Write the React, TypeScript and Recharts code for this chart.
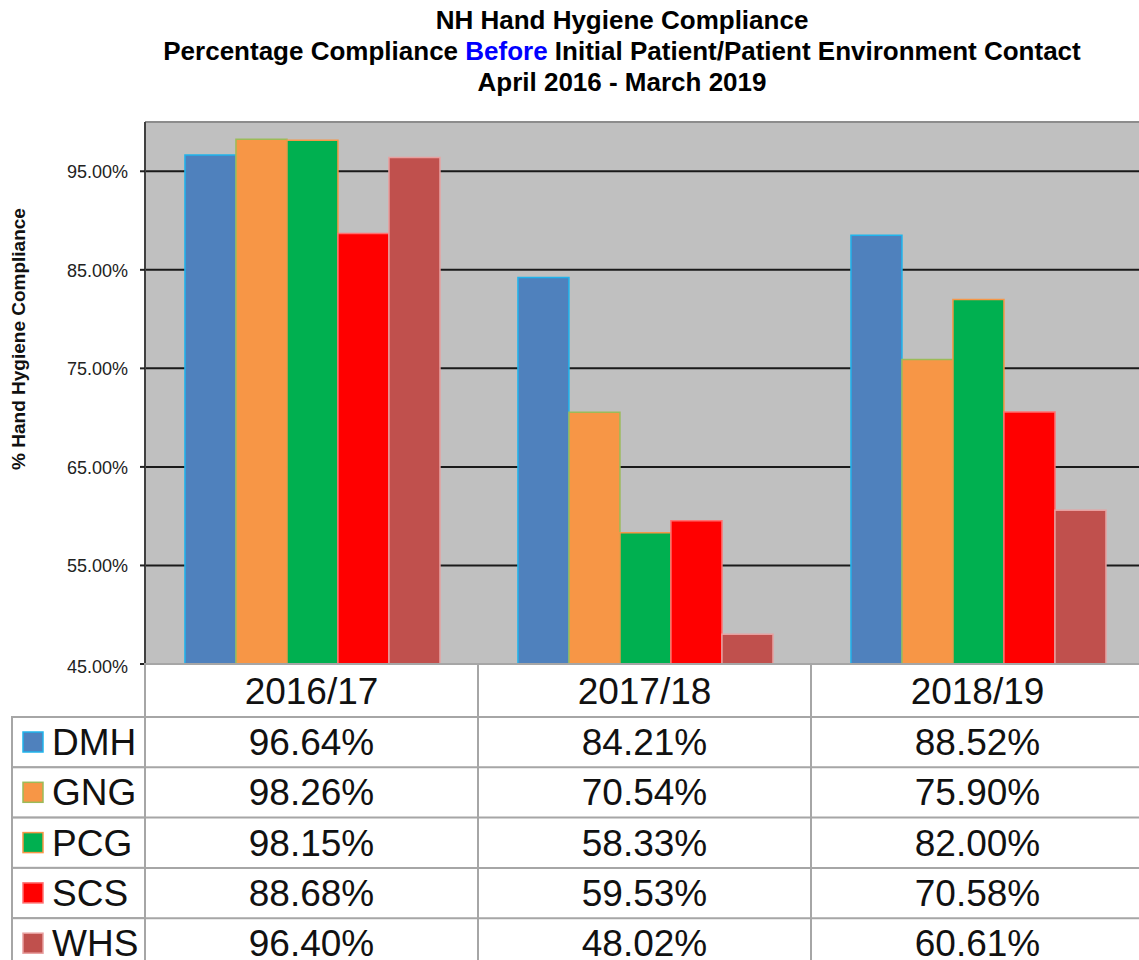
import React from 'react';
import { BarChart, Bar, XAxis, YAxis, CartesianGrid, ReferenceLine } from 'recharts';

const categories = ['2016/17', '2017/18', '2018/19'];
const seriesNames = ['DMH', 'GNG', 'PCG', 'SCS', 'WHS'];
const DMH = [96.64, 84.21, 88.52];
const GNG = [98.26, 70.54, 75.9];
const PCG = [98.15, 58.33, 82.0];
const SCS = [88.68, 59.53, 70.58];
const WHS = [96.4, 48.02, 60.61];
const yTicks = [45, 55, 65, 75, 85, 95];

const seriesValues: Record<string, number[]> = { DMH, GNG, PCG, SCS, WHS };
const fills: Record<string, string> = { DMH: '#4F81BD', GNG: '#F79646', PCG: '#00B050', SCS: '#FF0000', WHS: '#C0504D' };
const strokes: Record<string, string> = { DMH: '#1FB4EC', GNG: '#9BBB59', PCG: '#F79646', SCS: '#FF7070', WHS: '#E8A0A0' };

const data = categories.map((c, i) => {
  const row: Record<string, string | number> = { category: c };
  seriesNames.forEach((s) => (row[s] = seriesValues[s][i]));
  return row;
});

const CHART_W = 1150;
const CHART_H = 960;
const M_TOP = 122;
const M_RIGHT = 6;
const Y_W = 145;
const X_H = 296;
const COL_W = (CHART_W - Y_W - M_RIGHT) / categories.length;
const HEADER_H = 53;
const ROW_H = 50.3;
const LEFT_X = 12;
const BORDER = '#A6A6A6';
const FONT = '"Liberation Sans", Arial, sans-serif';
const TABLE_FS = 37;

const TableTick = (props: any) => {
  const { x, y, payload } = props;
  const idx = payload.index;
  const left = x - COL_W / 2;
  const cat = categories[idx];
  return (
    <g>
      <rect x={left} y={y} width={COL_W} height={HEADER_H + ROW_H * 5 + 20} fill="#fff" stroke={BORDER} strokeWidth={2} />
      <text x={x} y={y + HEADER_H / 2 + 13} textAnchor="middle" fontSize={TABLE_FS} fill="#111" fontFamily={FONT}>{cat}</text>
      {seriesNames.map((s, r) => {
        const top = y + HEADER_H + r * ROW_H;
        return (
          <g key={s}>
            <line x1={left} x2={left + COL_W} y1={top} y2={top} stroke={BORDER} strokeWidth={2} />
            <text x={x} y={top + ROW_H / 2 + 13} textAnchor="middle" fontSize={TABLE_FS} fill="#111" fontFamily={FONT}>
              {seriesValues[s][idx].toFixed(2) + '%'}
            </text>
          </g>
        );
      })}
      {idx === 0 &&
        seriesNames.map((s, r) => {
          const top = y + HEADER_H + r * ROW_H;
          return (
            <g key={'l' + s}>
              <rect x={LEFT_X} y={top} width={Y_W - LEFT_X} height={ROW_H} fill="#fff" stroke={BORDER} strokeWidth={2} />
              <rect x={23} y={top + 15} width={20} height={20} fill={fills[s]} stroke={strokes[s]} strokeWidth={1.5} />
              <text x={52} y={top + ROW_H / 2 + 13} fontSize={TABLE_FS} fill="#111" fontFamily={FONT}>{s}</text>
            </g>
          );
        })}
    </g>
  );
};

const YTick = (props: any) => {
  const { x, y, payload } = props;
  const dy = payload.value === 45 ? 9 : 7;
  return (
    <text x={x - 10} y={y + dy} textAnchor="end" fontSize={18} fill="#222" fontFamily={FONT}>
      {payload.value.toFixed(2) + '%'}
    </text>
  );
};

export default function App() {
  return (
    <div style={{ position: 'absolute', left: 0, top: 0, width: 1139, height: 960, overflow: 'hidden', background: '#fff' }}>
      <div
        style={{
          position: 'absolute',
          left: 0,
          top: 5,
          width: 1244,
          textAlign: 'center',
          fontFamily: FONT,
          fontWeight: 'bold',
          fontSize: 26,
          lineHeight: '31px',
          color: '#000',
        }}
      >
        <div>NH Hand Hygiene Compliance</div>
        <div>
          Percentage Compliance <span style={{ color: '#0000FF' }}>Before</span> Initial Patient/Patient Environment Contact
        </div>
        <div>April 2016 - March 2019</div>
      </div>
      <svg style={{ position: 'absolute', left: 0, top: 0 }} width={40} height={960}>
        <text
          x={0}
          y={0}
          transform="translate(25,339) rotate(-90)"
          textAnchor="middle"
          fontSize={19}
          fontWeight="bold"
          fill="#111"
          fontFamily={FONT}
        >
          % Hand Hygiene Compliance
        </text>
      </svg>
      <div style={{ position: 'absolute', left: 0, top: 0 }}>
        <BarChart
          width={CHART_W}
          height={CHART_H}
          data={data}
          margin={{ top: M_TOP, right: M_RIGHT, left: 0, bottom: 0 }}
          barCategoryGap="12%"
          barGap={0}
        >
          <CartesianGrid vertical={false} horizontal={true} stroke="#1a1a1a" strokeWidth={2} fill="#C0C0C0" fillOpacity={1} />
          <ReferenceLine y={100} stroke="#8C8C8C" strokeWidth={2} />
          <XAxis
            dataKey="category"
            height={X_H}
            tickSize={0}
            tickMargin={0}
            axisLine={false}
            tickLine={false}
            tick={<TableTick />}
            interval={0}
          />
          <YAxis
            width={Y_W}
            domain={[45, 100]}
            ticks={yTicks}
            allowDataOverflow
            axisLine={{ stroke: '#404040', strokeWidth: 2 }}
            tickLine={{ stroke: '#222', strokeWidth: 2 }}
            tickSize={5}
            tick={<YTick />}
          />
          {seriesNames.map((s) => (
            <Bar key={s} dataKey={s} fill={fills[s]} stroke={strokes[s]} strokeWidth={1.5} isAnimationActive={false} />
          ))}
        </BarChart>
      </div>
    </div>
  );
}
